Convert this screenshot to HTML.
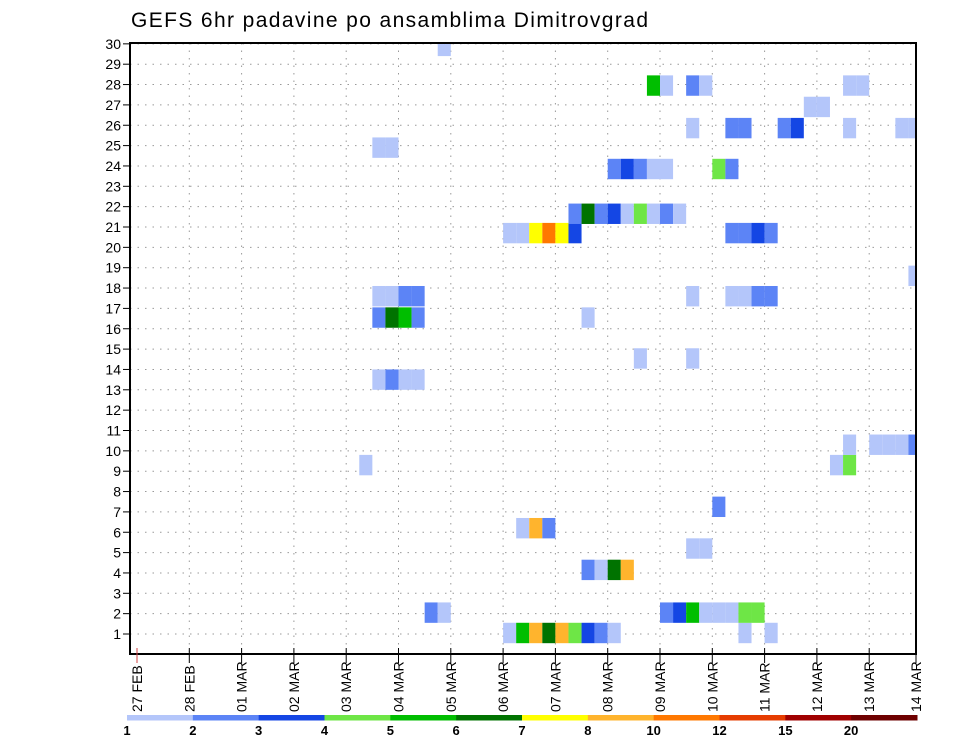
<!DOCTYPE html>
<html><head><meta charset="utf-8"><style>
html,body{margin:0;padding:0;background:#fff;}
svg{display:block;font-family:"Liberation Sans",sans-serif;}
</style></head><body>
<svg id="chart" width="960" height="742" viewBox="0 0 960 742" xmlns="http://www.w3.org/2000/svg">
<text x="131" y="27" font-size="21" textLength="517" fill="#000">GEFS 6hr padavine po ansamblima Dimitrovgrad</text>
<g id="grid"></g><g id="cells"></g><g id="axes"></g><g id="cbar"></g>
</svg>
<script>
// ---- data ----
const dayLabels = ["27 FEB","28 FEB","01 MAR","02 MAR","03 MAR","04 MAR","05 MAR","06 MAR","07 MAR","08 MAR","09 MAR","10 MAR","11 MAR","12 MAR","13 MAR","14 MAR"];
const memberTicks = [1,2,3,4,5,6,7,8,9,10,11,12,13,14,15,16,17,18,19,20,21,22,23,24,25,26,27,28,29,30];
const levelLabels = ["1","2","3","4","5","6","7","8","10","12","15","20"];
const levelColors = ["#b4c6fa","#5c84f6","#1446e4","#6ee646","#00be00","#007300","#ffff00","#ffb42d","#ff7800","#e63c00","#a00000","#6e0000"];
// cells: member row position (as read), 6-hour step index from 27 FEB 00Z, colour level (1..12)
const cellRow = [
 1.05,1.05,1.05,1.05,1.05,1.05,1.05,1.05,1.05,1.05,1.05,
 2.05,2.05,2.05,2.05,2.05,2.05,2.05,2.05,2.05,2.05,
 4.15,4.15,4.15,4.15,
 5.2,5.2,
 6.2,6.2,6.2,
 7.25,
 9.3,9.3,9.3,
 10.3,10.3,10.3,10.3,10.3,
 13.5,13.5,13.5,13.5,
 14.54,14.54,
 16.55,16.55,16.55,16.55,16.55,
 17.6,17.6,17.6,17.6,17.6,17.6,17.6,17.6,17.6,
 18.6,
 20.7,20.7,20.7,20.7,20.7,20.7,20.7,20.7,20.7,20.7,
 21.65,21.65,21.65,21.65,21.65,21.65,21.65,21.65,21.65,
 23.85,23.85,23.85,23.85,23.85,23.85,23.85,
 24.9,24.9,
 25.86,25.86,25.86,25.86,25.86,25.86,25.86,25.86,
 26.9,26.9,
 27.95,27.95,27.95,27.95,27.95,27.95,
 29.9];
const cellStep = [
 28,29,30,31,32,33,34,35,36,46,48,
 22,23,40,41,42,43,44,45,46,47,
 34,35,36,37,
 42,43,
 29,30,31,
 44,
 17,53,54,
 54,56,57,58,59,
 18,19,20,21,
 38,42,
 18,19,20,21,34,
 18,19,20,21,42,45,46,47,48,
 59,
 28,29,30,31,32,33,45,46,47,48,
 33,34,35,36,37,38,39,40,41,
 36,37,38,39,40,44,45,
 18,19,
 42,45,46,49,50,54,58,59,
 51,52,
 39,40,42,43,54,55,
 23];
const cellLevel = [
 1,5,8,6,8,4,3,2,1,1,1,
 2,1,2,3,5,1,1,1,4,4,
 2,1,6,8,
 1,1,
 1,8,2,
 2,
 1,1,4,
 1,1,1,1,2,
 1,2,1,1,
 1,1,
 2,6,5,2,1,
 1,1,2,2,1,1,1,2,2,
 1,
 1,1,7,9,7,3,2,2,3,2,
 2,6,2,3,1,4,1,2,1,
 2,3,2,1,1,4,2,
 1,1,
 1,2,2,2,3,1,1,1,
 1,1,
 5,1,2,1,1,1,
 1];

// ---- layout / scales ----
const L=130,R=916,T=43,B=654;
const x0=137, dayW=52.3, stepW=dayW/4;
const xDay=d=>x0+d*dayW;
const xStep=s=>x0+s*stepW;
const yRow=r=>634-(r-1)*20.35;
const NS="http://www.w3.org/2000/svg";
function mk(tag,attrs,parent){const e=document.createElementNS(NS,tag);for(const k in attrs)e.setAttribute(k,attrs[k]);parent.appendChild(e);return e;}
const grid=document.getElementById('grid'),cells=document.getElementById('cells'),axes=document.getElementById('axes'),cbar=document.getElementById('cbar');

// grid
memberTicks.forEach(m=>{
  const l=mk('line',{x1:L,x2:R,y1:yRow(m),y2:yRow(m),stroke:"#999","stroke-width":1,"stroke-dasharray":"1.5 6"},grid);
  
  
});
dayLabels.forEach((d,i)=>{
  const x=Math.min(xDay(i),R);
  if(i>0&&i<dayLabels.length-1){
    const l=mk('line',{x1:x,x2:x,y1:T,y2:B,stroke:"#999","stroke-width":1,"stroke-dasharray":"1.5 6"},grid);
    
    
  }
});

// cells
const n=Math.min(cellRow.length,cellStep.length,cellLevel.length);
for(let k=0;k<n;k++){
  const y=yRow(cellRow[k]);
  let top=y-10.2, h=20.4;
  if(top<T){h-=T-top;top=T;}
  let x=xStep(cellStep[k]), w=stepW;
  if(x+w>R) w=R-x;
  const r=mk('rect',{x:x,y:top,width:w,height:h,fill:levelColors[cellLevel[k]-1]},cells);
  
  
}

// frame
const fr=mk('rect',{x:L,y:T,width:R-L,height:B-T,fill:"none",stroke:"#000","stroke-width":2},axes);



// y ticks & labels
memberTicks.forEach(m=>{
  const y=yRow(m);
  mk('line',{x1:L-7,x2:L,y1:y,y2:y,stroke:"#000","stroke-width":1},axes);
  const t=mk('text',{x:L-9,y:y+5,"font-size":14,"text-anchor":"end",fill:"#000"},axes);
  t.textContent=m;
  
  
});

// x ticks & labels
dayLabels.forEach((d,i)=>{
  const x=Math.min(xDay(i),R);
  mk('line',{x1:x,x2:x,y1:B-6,y2:B+9,stroke:i===0?"#d04040":"#000","stroke-width":1},axes);
  const t=mk('text',{x:0,y:0,"font-size":14,fill:"#000",transform:`translate(${x+5},712) rotate(-90)`},axes);
  t.textContent=d;
  
  
});

// colour bar
const cbL=127,cbR=917,segW=(cbR-cbL)/levelColors.length;
levelColors.forEach((c,i)=>{
  const r=mk('rect',{x:cbL+i*segW,y:715,width:segW+0.5,height:5.5,fill:c},cbar);
  
  
});
levelLabels.forEach((s,i)=>{
  const t=mk('text',{x:cbL+i*segW,y:735,"font-size":13,"font-weight":"bold","text-anchor":"middle",fill:"#000"},cbar);
  t.textContent=s;
  
  
});
</script>
</body></html>
